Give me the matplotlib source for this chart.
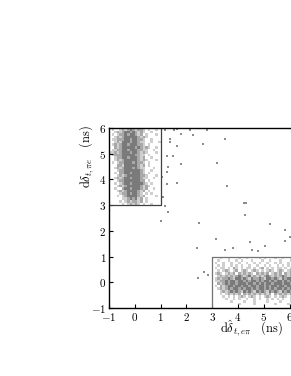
import numpy as np
import matplotlib
matplotlib.use("Agg")
from matplotlib import pyplot as plt
from matplotlib.colors import ListedColormap

plt.rcParams['mathtext.fontset'] = 'cm'
plt.rcParams['font.family'] = 'serif'

# 2D histogram, bins of 0.1 ns; ' ' empty, '.' few, '+' more, '#' many
# cluster 1: x from -1.0 to 1.0, rows from y=6.0 down to y=3.0
cluster1_x0, cluster1_y_top = -1.0, 6.0
cluster1_rows = [
    " .  .+.+#+.++. .  . ",
    "  .+.+##+#+.+.  .   ",
    " . .++#+##+.+ .   . ",
    "  .+.+#####+.+.     ",
    " ..+++##+##++.  .   ",
    "  .+.###+##+..  .  .",
    " .+.+##+###++. .    ",
    "  +.+#####+#+.+.  . ",
    " ..++##+###++..  .  ",
    "..+.+###+##+.+.   . ",
    " .+++#####++.. .    ",
    "  .++##+###+.+  .   ",
    "  .+.+#####+.+.   . ",
    " . .++###+#++. .    ",
    "   ++.#####+.+ .    ",
    "  .+.+###+#+..   .  ",
    "   .++######+.  .   ",
    "  . ++##+###+. .    ",
    "   .+.+#####++.   . ",
    "  .+.+##+###+..  .  ",
    "   .++######++ .    ",
    "  . .+##+####+. .   ",
    "   .+.+#####+.+.    ",
    "  .  +##+###+.+  .  ",
    "   .+.+####+.+ .    ",
    "    .++#+##+. . .   ",
    "   . .+####+.+    . ",
    "     ..+#+#.+ .     ",
    "    . .+.++.+ .     ",
    "     . .+.+. .  .   ",
]

# cluster 2: x from 3.0 to 6.2, rows from y=1.0 down to y=-1.0
cluster2_x0, cluster2_y_top = 3.0, 1.0
cluster2_rows = [
    "   .  .   .  .    . .   .  .  . ",
    "  .   .  . .   .   .  .   .   . ",
    " .  .  .  .  .  . .  .  . .  .  ",
    "  . .  . . .  .  .  . .  . . . .",
    " . .. . +. . .. . .+ . . .. . . ",
    "  . .+. .+ .+. .+. . .+. .+. .+ ",
    " .+. .+.+ +.+.+. +.+.+ .+.+ +.+.",
    "  .+.+.+.+#+.+#.+.+.+#+.+.+#+.+.",
    " .+.++#+.##+#+.#++#+.##+#+.#+##+",
    " ..++#+##+##+#+##+#+##+#+##+#+#+",
    "  +.+#+##+###+##+#+#+##+###+##+#",
    " . +.+##+##+##+##+##+#+##+##+##+",
    "  .+.+#+##+#+##+#+##+#+#+##+#+#+",
    "   .+.+#+#+.#+#+.#+#+.#+#+.#+#+.",
    "   . .+.+.+ +.+.+.+.+.+ +.+.+.+.",
    "    . . . .+. .+. . .+. . .+. . ",
    "     .  . .  .  . .  . . . .  . ",
    "       .    .   .    .    .   . ",
    "          .     .       .    .  ",
    "                                ",
]

# isolated events outside the two clusters
out_x = [1.17, 1.52, 1.64, 2.14, 2.80, 1.79, 2.26, 1.36, 1.36, 1.64, 2.64, 3.50,
         1.25, 1.48, 1.79, 3.19, 1.29, 1.25, 1.25, 1.64, 3.57, 4.23, 4.30, 1.17,
         1.29, 4.27, 1.02, 2.49, 5.24, 3.15, 4.47, 5.82, 5.82, 5.05, 2.41, 3.81,
         3.50, 4.54, 4.78, 6.00, 2.45, 2.68, 2.85, 1.05, 1.10]
out_y = [5.92, 5.92, 5.97, 5.92, 5.92, 5.77, 5.73, 5.57, 5.46, 5.30, 5.38, 5.57,
         4.91, 4.91, 4.60, 4.64, 4.48, 4.29, 3.82, 3.86, 3.74, 3.08, 3.08, 2.96,
         2.73, 2.61, 2.38, 2.30, 2.26, 1.68, 1.56, 2.03, 1.60, 1.41, 1.33, 1.33,
         1.25, 1.25, 1.21, 1.76, 0.16, 0.40, 0.30, 4.10, 3.30]

xticks = [-1, 0, 1, 2, 3, 4, 5, 6]
yticks = [-1, 0, 1, 2, 3, 4, 5, 6]

levels = {' ': 0, '.': 1, '+': 2, '#': 3}
cmap = ListedColormap(['#cfcfcf', '#a8a8a8', '#7a7a7a'])


def draw_grid(ax, rows, x0, y_top, bw=0.1):
    counts = np.array([[levels[c] for c in r] for r in rows[::-1]], float)
    counts = np.ma.masked_equal(counts, 0)
    ny, nx = counts.shape
    xe = x0 + bw * np.arange(nx + 1)
    ye = y_top - bw * ny + bw * np.arange(ny + 1)
    ax.pcolormesh(xe, ye, counts, cmap=cmap, vmin=0.5, vmax=3.5)


fig = plt.figure(figsize=(2.91, 3.76), dpi=100)
ax = fig.add_axes([0.3746, 0.1809, 0.709, 0.4787])

draw_grid(ax, cluster1_rows, cluster1_x0, cluster1_y_top)
draw_grid(ax, cluster2_rows, cluster2_x0, cluster2_y_top)
ax.scatter(out_x, out_y, s=2.5, marker='s', color='0.55', linewidths=0)

# selection boxes
ax.plot([-1, 1, 1], [3, 3, 6], color='0.25', lw=0.9)
ax.plot([3, 3, 7], [-1, 1, 1], color='0.45', lw=0.9)

ax.set_xlim(-1, 7)
ax.set_ylim(-1, 6)
ax.set_xticks(xticks)
ax.set_yticks(yticks)
ax.set_xticklabels([f'${t}$' for t in xticks])
ax.set_yticklabels([f'${t}$' for t in yticks])
ax.tick_params(direction='in', length=3, width=0.8, labelsize=8, pad=2,
               top=False, right=False)
for s in ['left', 'bottom', 'top']:
    ax.spines[s].set_linewidth(1.0)
ax.spines['right'].set_visible(False)

ax.text(0.693, -0.115, r'$\mathrm{d}\hat{\delta}_{t,e\pi}\quad(\mathrm{ns})$',
        transform=ax.transAxes, ha='center', va='center', fontsize=9)
ax.text(-0.107, 0.839, r'$\mathrm{d}\delta_{t,\pi e}\quad(\mathrm{ns})$',
        transform=ax.transAxes, ha='center', va='center', fontsize=9,
        rotation=90)

fig.savefig('out.png', dpi=100)
